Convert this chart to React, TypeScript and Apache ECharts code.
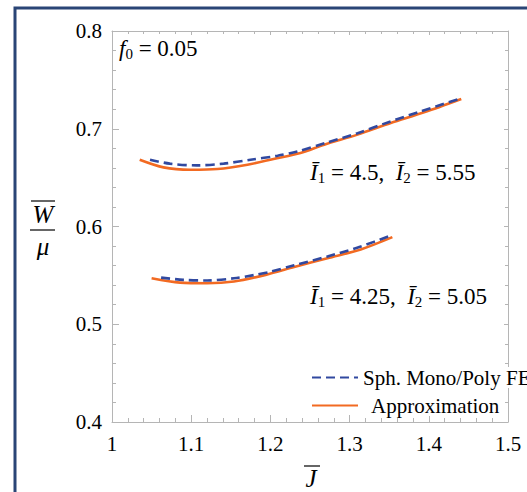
import React, { useEffect, useRef } from 'react';
import * as echarts from 'echarts';

// Upper pair (I1 = 4.5, I2 = 5.55)
const upperFemX = [1.048, 1.073, 1.107, 1.141, 1.175, 1.209, 1.234, 1.27, 1.31, 1.35, 1.39, 1.44];
const upperFemY = [0.6683, 0.6643, 0.6625, 0.6643, 0.6683, 0.6724, 0.6768, 0.6855, 0.6955, 0.707, 0.7178, 0.731];
const upperApxX = [1.035, 1.065, 1.099, 1.133, 1.171, 1.204, 1.238, 1.268, 1.31, 1.352, 1.394, 1.441];
const upperApxY = [0.6683, 0.6605, 0.6581, 0.6588, 0.6632, 0.6691, 0.6752, 0.6837, 0.694, 0.7059, 0.7168, 0.7305];

// Lower pair (I1 = 4.25, I2 = 5.05)
const lowerFemX = [1.062, 1.09, 1.12, 1.154, 1.179, 1.2, 1.23, 1.272, 1.314, 1.352];
const lowerFemY = [0.5477, 0.5454, 0.5448, 0.547, 0.5503, 0.5537, 0.5603, 0.5693, 0.5795, 0.5908];
const lowerApxX = [1.05, 1.086, 1.12, 1.154, 1.194, 1.23, 1.272, 1.314, 1.354];
const lowerApxY = [0.5471, 0.5426, 0.542, 0.5438, 0.5505, 0.5585, 0.5676, 0.5765, 0.5891];

const seriesNames = ['Sph. Mono/Poly FE', 'Approximation'];
const xRange = [1, 1.5, 0.1];
const yRange = [0.4, 0.8, 0.1];

const zip = (xs: number[], ys: number[]) => xs.map((x, i) => [x, ys[i]]);

const FONT = 'Liberation Serif';
const BLUE = '#3149a0';
const ORANGE = '#f26a22';
const FRAME = '#b5b5b5';

export default function App() {
  const ref = useRef<HTMLDivElement>(null);
  useEffect(() => {
    document.body.style.margin = '0';
    const chart = echarts.init(ref.current!, null, { renderer: 'svg' });
    const axisBase = (min: number, max: number, interval: number, main: boolean) => ({
      type: 'value',
      min,
      max,
      interval,
      axisLine: { show: true, onZero: false, lineStyle: { color: FRAME, width: 1 } },
      axisTick: { show: true, inside: true, length: main ? 7 : 4, lineStyle: { color: FRAME } },
      minorTick: { show: true, splitNumber: 5, length: main ? 4 : 3, lineStyle: { color: FRAME } },
      splitLine: { show: false },
      minorSplitLine: { show: false },
      axisLabel: {
        show: main,
        color: '#000',
        fontFamily: FONT,
        fontSize: 21,
      },
    });
    const femLine = { color: BLUE, width: 2.6, type: [9, 5] as any };
    const apxLine = { color: ORANGE, width: 2.6, type: 'solid' };
    const rich = {
      i: { fontFamily: FONT, fontStyle: 'italic', fontSize: 23, color: '#000', lineHeight: 26 },
      s: { fontFamily: FONT, fontSize: 15, color: '#000', lineHeight: 13, verticalAlign: 'bottom' },
      n: { fontFamily: FONT, fontSize: 23, color: '#000', lineHeight: 26 },
    };
    const label = (x: number, y: number, text: string) => ({
      type: 'text', x, y,
      style: { text, rich, verticalAlign: 'middle', align: 'left' },
    });
    const plain = (x: number, y: number, text: string) => ({
      type: 'text', x, y,
      style: { text, fontFamily: FONT, fontStyle: 'italic', fontSize: 25, fill: '#000', align: 'center', verticalAlign: 'middle' },
    });
    chart.setOption({
      animation: false,
      backgroundColor: '#fff',
      grid: { left: 112, right: 19, top: 31, bottom: 70, containLabel: false },
      xAxis: [
        { ...axisBase(xRange[0], xRange[1], xRange[2], true), position: 'bottom', axisLabel: { ...axisBase(1, 1.5, 0.1, true).axisLabel, margin: 11 } },
        { ...axisBase(xRange[0], xRange[1], xRange[2], false), position: 'top' },
      ],
      yAxis: [
        { ...axisBase(yRange[0], yRange[1], yRange[2], true), position: 'left', axisLabel: { ...axisBase(0.4, 0.8, 0.1, true).axisLabel, margin: 10 } },
        { ...axisBase(yRange[0], yRange[1], yRange[2], false), position: 'right' },
      ],
      legend: {
        orient: 'vertical',
        left: 306,
        top: 362,
        itemWidth: 46,
        itemHeight: 14,
        itemGap: 7,
        data: seriesNames,
        itemStyle: { opacity: 0 },
        formatter: (name: string) => (name === seriesNames[1] ? '{g|}' + name : name),
        textStyle: {
          fontFamily: FONT,
          fontSize: 21,
          color: '#000',
          backgroundColor: '#fff',
          rich: { g: { width: 8 } },
        },
      },
      series: [
        { name: seriesNames[1], type: 'line', data: zip(upperApxX, upperApxY), smooth: 0.3, symbol: 'none', lineStyle: apxLine, itemStyle: { color: ORANGE } },
        { name: seriesNames[1], type: 'line', data: zip(lowerApxX, lowerApxY), smooth: 0.3, symbol: 'none', lineStyle: apxLine, itemStyle: { color: ORANGE } },
        { name: seriesNames[0], type: 'line', data: zip(upperFemX, upperFemY), smooth: 0.3, symbol: 'none', lineStyle: femLine, itemStyle: { color: BLUE } },
        { name: seriesNames[0], type: 'line', data: zip(lowerFemX, lowerFemY), smooth: 0.3, symbol: 'none', lineStyle: femLine, itemStyle: { color: BLUE } },
      ],
      graphic: [
        { type: 'rect', shape: { x: 15, y: 8, width: 700, height: 700 }, style: { fill: 'none', stroke: '#2a4576', lineWidth: 3 }, silent: true, z: 10 },
        label(119, 48, '{i|f}{s|0}{n| = 0.05}'),
        label(310, 172, '{i|Ī}{s|1}{n| = 4.5,  }{i|Ī}{s|2}{n| = 5.55}'),
        label(310, 296, '{i|Ī}{s|1}{n| = 4.25,  }{i|Ī}{s|2}{n| = 5.05}'),
        // y-axis name as a fraction: W̄ / μ
        plain(43, 214, 'W'),
        { type: 'line', shape: { x1: 31, y1: 201, x2: 55, y2: 201 }, style: { stroke: '#000', lineWidth: 1.2 } },
        { type: 'line', shape: { x1: 30, y1: 230, x2: 55, y2: 230 }, style: { stroke: '#000', lineWidth: 1.2 } },
        plain(43, 246, 'μ'),
        // x-axis name: J̄
        plain(311, 478, 'J'),
        { type: 'line', shape: { x1: 304, y1: 466, x2: 320, y2: 466 }, style: { stroke: '#000', lineWidth: 1.2 } },
      ],
    });
    return () => chart.dispose();
  }, []);
  return <div ref={ref} style={{ width: 527, height: 492 }} />;
}
